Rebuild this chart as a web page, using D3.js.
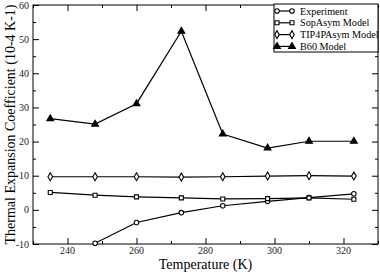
<!DOCTYPE html>
<meta charset="utf-8">
<head>
  <script src="https://d3js.org/d3.v7.min.js"></script>
  <style>
    body { margin: 0; background: #fff; }
  </style>
</head>
<body>
<div id="viz"></div>
<script>
  // Data
  var temps = [235, 248, 260, 273, 285, 298, 310, 323];
  var experiment = [null, -9.8, -3.7, -0.8, 1.2, 2.5, 3.6, 4.7];
  var sopAsym = [5.1, 4.3, 3.8, 3.5, 3.2, 3.3, 3.5, 3.1];
  var tip4pAsym = [9.7, 9.7, 9.7, 9.6, 9.7, 9.9, 10.0, 9.9];
  var b60 = [26.7, 25.1, 31.1, 52.3, 22.2, 18.1, 20.1, 20.1];
  var seriesNames = ["Experiment", "SopAsym Model", "TIP4PAsym Model", "B60 Model"];
  var xTicks = [240, 260, 280, 300, 320];
  var yTicks = [-10, 0, 10, 20, 30, 40, 50, 60];

  var config = { width: 380, height: 272, left: 33, right: 378, top: 5, bottom: 244 };
  var serif = "'Liberation Serif', 'Times New Roman', 'DejaVu Serif', serif";

  var svg = d3.select("#viz").append("svg")
    .attr("width", config.width)
    .attr("height", config.height)
    .attr("font-family", serif);

  var x = d3.scaleLinear().domain([230, 330]).range([config.left, config.right]);
  var y = d3.scaleLinear().domain([-10, 60]).range([config.bottom, config.top]);

  // frame
  svg.append("rect")
    .attr("x", config.left).attr("y", config.top)
    .attr("width", config.right - config.left)
    .attr("height", config.bottom - config.top)
    .attr("fill", "none").attr("stroke", "#000").attr("stroke-width", 1);

  // inward ticks on all four sides, major + minor
  var xMinor = d3.range(230, 331, 10).filter(function(v) { return v % 20 != 0; });
  var yMinor = d3.range(-5, 60, 10);

  function ticks(axis, values, size) {
    return axis.tickValues(values).tickSize(size).tickFormat("");
  }
  [[xTicks, 6], [xMinor, 3]].forEach(function(t) {
    svg.append("g").attr("transform", "translate(0," + config.bottom + ")")
      .call(ticks(d3.axisBottom(x), t[0], -t[1]));
    svg.append("g").attr("transform", "translate(0," + config.top + ")")
      .call(ticks(d3.axisTop(x), t[0], -t[1]));
  });
  [[yTicks, 6], [yMinor, 3]].forEach(function(t) {
    svg.append("g").attr("transform", "translate(" + config.left + ",0)")
      .call(ticks(d3.axisLeft(y), t[0], -t[1]));
    svg.append("g").attr("transform", "translate(" + config.right + ",0)")
      .call(ticks(d3.axisRight(y), t[0], -t[1]));
  });
  svg.selectAll(".domain").remove();
  svg.selectAll(".tick line").attr("stroke", "#000");

  // tick labels
  svg.selectAll(".xlab").data(xTicks).enter().append("text")
    .attr("x", function(d) { return x(d); })
    .attr("y", 254)
    .attr("text-anchor", "middle")
    .attr("font-family", serif)
    .attr("font-size", 10)
    .attr("fill", "#222")
    .text(function(d) { return d; });
  svg.selectAll(".ylab").data(yTicks).enter().append("text")
    .attr("x", 29)
    .attr("y", function(d) { return y(d) + 3.5; })
    .attr("text-anchor", "end")
    .attr("font-family", serif)
    .attr("font-size", 10)
    .attr("fill", "#222")
    .text(function(d) { return d; });

  // axis titles
  svg.append("text")
    .attr("x", (config.left + config.right) / 2)
    .attr("y", 269)
    .attr("text-anchor", "middle")
    .attr("font-family", serif)
    .attr("font-size", 14)
    .text("Temperature (K)");
  svg.append("text")
    .attr("transform", "translate(15," + ((config.top + config.bottom) / 2) + ") rotate(-90)")
    .attr("text-anchor", "middle")
    .attr("font-family", serif)
    .attr("font-size", 14)
    .text("Thermal Expansion Coefficient (10-4 K-1)");

  // markers
  var symbols = [d3.symbolCircle, d3.symbolSquare, d3.symbolDiamond, d3.symbolTriangle];
  var sizes = [16, 16, 18, 20];
  var fills = ["#fff", "#fff", "#fff", "#000"];
  var allSeries = [experiment, sopAsym, tip4pAsym, b60];

  var line = d3.line()
    .defined(function(d) { return d[1] != null; })
    .x(function(d) { return x(d[0]); })
    .y(function(d) { return y(d[1]); });

  allSeries.forEach(function(vals, i) {
    var pts = temps.map(function(t, j) { return [t, vals[j]]; });
    svg.append("path")
      .datum(pts)
      .attr("d", line)
      .attr("fill", "none")
      .attr("stroke", "#000")
      .attr("stroke-width", 1.2);
    svg.selectAll(".m" + i)
      .data(pts.filter(function(d) { return d[1] != null; }))
      .enter().append("path")
      .attr("class", "m" + i)
      .attr("transform", function(d) { return "translate(" + x(d[0]) + "," + y(d[1]) + ")"; })
      .attr("d", d3.symbol().type(symbols[i]).size(sizes[i]))
      .attr("fill", fills[i])
      .attr("stroke", "#000")
      .attr("stroke-width", 1.1);
  });

  // legend
  var legend = svg.append("g");
  legend.append("rect")
    .attr("x", 274).attr("y", 4)
    .attr("width", 104).attr("height", 48)
    .attr("fill", "#fff").attr("stroke", "#000").attr("stroke-width", 1);
  seriesNames.forEach(function(name, i) {
    var ly = 11 + i * 11.8;
    legend.append("line")
      .attr("x1", 277).attr("x2", 292)
      .attr("y1", ly).attr("y2", ly)
      .attr("stroke", "#000").attr("stroke-width", 1.2);
    [277, 292].forEach(function(lx) {
      legend.append("path")
        .attr("transform", "translate(" + lx + "," + ly + ")")
        .attr("d", d3.symbol().type(symbols[i]).size(sizes[i]))
        .attr("fill", fills[i])
        .attr("stroke", "#000")
        .attr("stroke-width", 1.1);
    });
    legend.append("text")
      .attr("x", 300).attr("y", ly + 3.6)
      .attr("font-family", serif)
      .attr("font-size", 10.2)
      .text(name);
  });
</script>
</body>
